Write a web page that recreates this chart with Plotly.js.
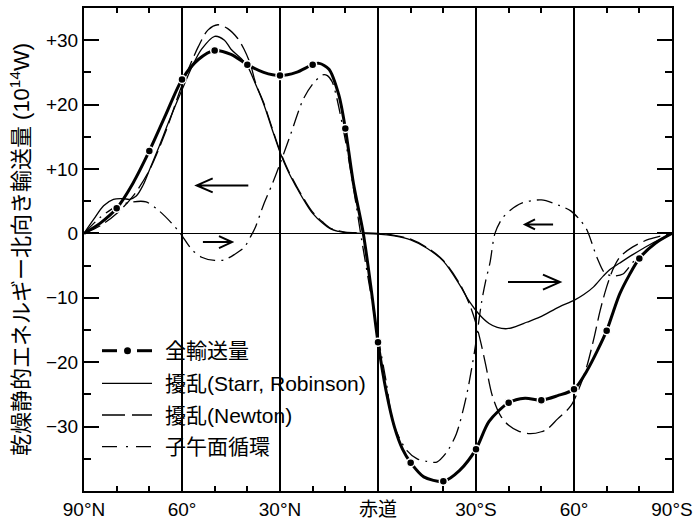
<!DOCTYPE html>
<html>
<head>
<meta charset="utf-8">
<script src="https://cdn.plot.ly/plotly-3.0.1.min.js"></script>
<style>html,body{margin:0;padding:0;background:#fff;}#chart{width:699px;height:520px;}</style>
</head>
<body>
<div id="chart"></div>
<script>
// ---- data (latitude: + = north, - = south) ----
const tickLat = [90, 60, 30, 0, -30, -60, -90];
const tickLabels = ['90°N', '60°', '30°N', '赤道', '30°S', '60°', '90°S'];
const yTickVals = [30, 20, 10, 0, -10, -20, -30];
const yTickLabels = ['+30', '+20', '+10', '0', '−10', '−20', '−30'];

const totalLat = [90,85,80,75,70,65,60,55,50,45,40,35,30,25,20,18,15,12,10,7.5,4.5,2,0,-2.5,-5,-7.5,-10,-14,-20,-25,-30,-34,-40,-45,-50,-55,-60,-64,-70,-72,-74,-77,-80,-85,-90];
const totalVal = [0,1.6,3.9,7.8,12.8,18.4,23.9,27.0,28.4,27.8,26.2,25.0,24.5,25.0,26.2,26.4,25.5,21.5,16.3,7.7,0,-9,-16.9,-24.5,-30,-33.5,-35.6,-37.8,-38.5,-36.8,-33.5,-29.2,-26.3,-25.6,-25.9,-25.2,-24.2,-21.3,-15.1,-12.2,-9.4,-6.4,-3.9,-1.5,0];

const starrLat = [90,87,84,81,78,76,74,72,70,67,64,60,57,54,50,47,45,42,40,37.5,35,32.5,30,27.5,25,22.5,20,17,14.5,12,10,5,0,-5,-10,-15,-20,-25,-28,-31,-34,-36.5,-39.5,-42.5,-45.5,-49.5,-55.5,-60,-63,-66,-69,-71,-74,-78,-83,-90];
const starrVal = [0,2.2,4.3,5.3,5.4,5.3,5.8,7.4,9.8,13.5,17.4,22.3,25.8,28.6,30.6,30.0,28.6,27.2,26.0,23.2,20.1,16.3,12.6,9.6,7.2,5.0,3.1,1.6,0.7,0.3,0.1,0,-0.1,-0.4,-1.0,-2.3,-4.3,-8.0,-10.6,-12.6,-14.0,-14.6,-14.8,-14.4,-13.8,-13.0,-11.4,-10.4,-9.5,-8.3,-6.6,-5.6,-4.6,-3.3,-1.8,0];

const newtonLat = [90,85,80,75,70,65,60,55,52,49,46,43,41,39,37.5,35,32.5,30,27.5,25,22.5,20,17,14.5,12,10,5,0,-5,-10,-15,-20,-25,-28,-30,-31.5,-33,-35,-37.5,-40,-43,-46.5,-50,-52,-55,-59,-62,-64,-66,-68,-70,-72,-74,-78,-83,-90];
const newtonVal = [0,1.2,3.1,5.8,9.8,15.8,23.0,29.0,31.6,32.4,31.8,30.3,28.6,26.2,23.4,20.3,16.5,12.8,9.8,7.4,5.2,3.3,1.8,0.8,0.4,0.2,0.1,0,-0.3,-0.9,-2.2,-4.2,-7.8,-11.0,-14.0,-17.0,-20.5,-25.2,-28.3,-29.8,-30.7,-31.1,-30.8,-30.3,-28.8,-26.8,-23.5,-20.5,-16.5,-12.0,-8.3,-5.5,-3.7,-2.1,-0.9,0];

const meridLat = [90,85,80,75,71,67,63,60.5,57,54,50,47,44,41,39,37.5,35,32.5,30,27,23,20,17,15.5,14,12.7,10,7.5,5,2.5,0,-2.5,-4.7,-8.8,-12,-15,-18,-21,-24,-27,-29.5,-31.7,-33,-34.3,-35.8,-38,-40.5,-44,-50,-55.7,-59,-62,-64,-67,-69.5,-72,-75,-78,-82,-86,-90];
const meridVal = [0,2.5,4.2,4.9,4.9,3.5,1.5,0,-2.5,-3.7,-4.2,-4.1,-3.3,-2.2,-0.5,1.0,4.5,7.5,10.8,15,20.7,23.2,24.6,24.5,23.5,21.2,14.5,7,-1,-8.5,-16,-23,-29.6,-33.7,-35,-35.4,-35.5,-34,-31.1,-25.4,-18.5,-10.7,-7.3,-4.5,0,2.3,3.6,4.7,5.2,4.3,3.5,2,0.5,-3.7,-6.2,-6.6,-6.3,-4.5,-2.7,-1.2,0];

const legendNames = ['全輸送量', '擾乱(Starr, Robinson)', '擾乱(Newton)', '子午面循環'];

// transport direction arrows: [tail lat, tip lat, value]
const arrowTail = [39.7, 53.6, -53.6, -39.8];
const arrowTip  = [55.5, 44.7, -45.0, -55.7];
const arrowY    = [7.45, -1.35, 1.4, -7.56];

// ---- layout geometry ----
const W = 699, H = 520;
const M = {l: 84, r: 27, t: 8, b: 29};
const PW = W - M.l - M.r, PH = H - M.t - M.b;
const XR = [90, -90], YR = [-40, 35];
const degPerPx = (XR[0] - XR[1]) / PW;
const valPerPx = (YR[1] - YR[0]) / PH;
const FONT = 'Liberation Sans, Arial, Noto Sans CJK JP, sans-serif';

// dots every 10 degrees on total transport
const dotLat = [], dotVal = [];
totalLat.forEach((la, i) => {
  if (la % 10 === 0 && Math.abs(la) < 90) { dotLat.push(la); dotVal.push(totalVal[i]); }
});

const traces = [
  {x: starrLat, y: starrVal, mode: 'lines', name: legendNames[1], showlegend: false,
   line: {color: '#000', width: 1.3, shape: 'spline', smoothing: 0.9}},
  {x: newtonLat, y: newtonVal, mode: 'lines', name: legendNames[2], showlegend: false,
   line: {color: '#000', width: 1.3, dash: '18px,6px', shape: 'spline', smoothing: 0.9}},
  {x: meridLat, y: meridVal, mode: 'lines', name: legendNames[3], showlegend: false,
   line: {color: '#000', width: 1.3, dash: '16px,6px,2px,6px', shape: 'spline', smoothing: 0.8}},
  {x: totalLat, y: totalVal, mode: 'lines', name: legendNames[0], showlegend: false,
   line: {color: '#000', width: 3, shape: 'spline', smoothing: 0.8}},
  {x: dotLat, y: dotVal, mode: 'markers', name: legendNames[0], showlegend: false,
   marker: {color: '#000', size: 8, line: {color: '#fff', width: 1.5}}}
];

// ---- shapes ----
const shapes = [];
const px2x = px => (px - M.l) / PW;          // paper x from page px
const px2y = py => (H - M.b - py) / PH;      // paper y from page py

// legend background
shapes.push({type: 'rect', xref: 'paper', yref: 'paper', layer: 'between',
  x0: px2x(101), x1: px2x(372), y0: px2y(458), y1: px2y(333),
  fillcolor: '#fff', line: {width: 0}});

// legend samples
const rowY = [350.7, 383.3, 415, 446.7];
const sx0 = 102, sx1 = 152;
shapes.push({type: 'line', xref: 'paper', yref: 'paper', x0: px2x(sx0), x1: px2x(117), y0: px2y(rowY[0]), y1: px2y(rowY[0]), line: {color: '#000', width: 3}});
shapes.push({type: 'line', xref: 'paper', yref: 'paper', x0: px2x(137), x1: px2x(sx1), y0: px2y(rowY[0]), y1: px2y(rowY[0]), line: {color: '#000', width: 3}});
shapes.push({type: 'circle', xref: 'paper', yref: 'paper', xsizemode: 'pixel', ysizemode: 'pixel',
  xanchor: px2x(127.5), yanchor: px2y(rowY[0]), x0: -3.5, x1: 3.5, y0: -3.5, y1: 3.5,
  fillcolor: '#000', line: {width: 0}});
shapes.push({type: 'line', xref: 'paper', yref: 'paper', x0: px2x(sx0), x1: px2x(sx1), y0: px2y(rowY[1]), y1: px2y(rowY[1]), line: {color: '#000', width: 1.3}});
shapes.push({type: 'line', xref: 'paper', yref: 'paper', x0: px2x(sx0), x1: px2x(sx1), y0: px2y(rowY[2]), y1: px2y(rowY[2]), line: {color: '#000', width: 1.3, dash: '23px,7px'}});
shapes.push({type: 'line', xref: 'paper', yref: 'paper', x0: px2x(sx0), x1: px2x(sx1), y0: px2y(rowY[3]), y1: px2y(rowY[3]), line: {color: '#000', width: 1.3, dash: '15px,9px,2px,8px'}});

// direction arrows (open heads)
const headLen = [16, 13, 10, 17], headHalf = [7, 6, 5, 7.5];
arrowTip.forEach((tip, i) => {
  const tail = arrowTail[i], y = arrowY[i];
  const s = Math.sign(tail - tip);
  const wx = tip + s * headLen[i] * degPerPx;
  const dy = headHalf[i] * valPerPx;
  shapes.push({type: 'path', xref: 'x', yref: 'y', layer: 'above',
    path: `M${tail},${y}L${tip},${y}M${wx},${y + dy}L${tip},${y}L${wx},${y - dy}`,
    line: {color: '#000', width: 2}});
});

// legend text
const annotations = legendNames.map((t, i) => ({
  text: t, xref: 'paper', yref: 'paper', x: px2x(163), y: px2y(rowY[i]),
  xanchor: 'left', yanchor: 'middle', showarrow: false,
  font: {family: FONT, size: 21, color: '#000'}
}));

const layout = {
  width: W, height: H,
  margin: M,
  paper_bgcolor: '#fff', plot_bgcolor: '#fff',
  showlegend: false,
  font: {family: FONT, size: 19, color: '#000'},
  xaxis: {
    range: XR, tickmode: 'array', tickvals: tickLat, ticktext: tickLabels,
    ticks: 'inside', ticklen: 8, tickwidth: 2, tickcolor: '#000',
    showgrid: true, gridcolor: '#000', gridwidth: 1.2,
    showline: true, linecolor: '#000', linewidth: 2, mirror: 'ticks',
    zeroline: false,
    minor: {tickvals: [80,70,50,40,20,10,-10,-20,-40,-50,-70,-80], ticks: 'inside', ticklen: 5, tickwidth: 2, tickcolor: '#000', showgrid: false},
    tickfont: {family: FONT, size: 19, color: '#000'}
  },
  yaxis: {
    range: YR, tickmode: 'array', tickvals: yTickVals, ticktext: yTickLabels,
    ticks: 'inside', ticklen: 15, tickwidth: 2, tickcolor: '#000',
    showgrid: false, zeroline: true, zerolinecolor: '#000', zerolinewidth: 1.2,
    showline: true, linecolor: '#000', linewidth: 2, mirror: 'ticks',
    minor: {tickvals: [-35,-25,-15,-5,5,15,25], ticks: 'inside', ticklen: 7, tickwidth: 2, tickcolor: '#000', showgrid: false},
    tickfont: {family: FONT, size: 19, color: '#000'},
    title: {text: '乾燥静的エネルギー北向き輸送量 (10<sup>14</sup>W)', font: {family: FONT, size: 22, color: '#000'}, standoff: 10}
  },
  shapes: shapes,
  annotations: annotations
};

Plotly.newPlot('chart', traces, layout, {displayModeBar: false, staticPlot: true});
</script>
</body>
</html>
